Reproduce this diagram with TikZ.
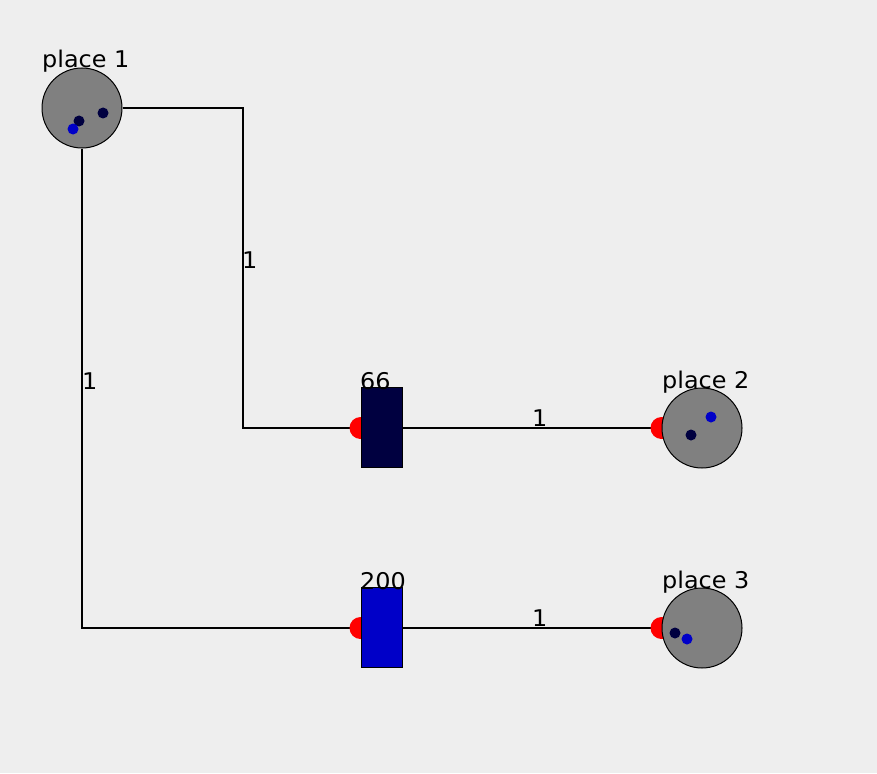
\documentclass[tikz,border=0pt]{standalone}
\usepackage{fontspec}
\newfontfamily\lblfont[FakeStretch=1.04]{DejaVu Sans}
\usetikzlibrary{backgrounds}
\definecolor{bgcol}{RGB}{238,238,238}
\definecolor{navytok}{RGB}{0,0,64}
\definecolor{bluetok}{RGB}{0,0,200}
\definecolor{placegray}{RGB}{128,128,128}
\definecolor{arcred}{RGB}{255,0,0}
\begin{document}
\begin{tikzpicture}[x=1pt,y=-1pt,
  place/.style={circle,draw=black,line width=1pt,fill=placegray,minimum size=80pt,inner sep=0pt},
  trans/.style={rectangle,draw=black,line width=1pt,minimum width=41pt,minimum height=80pt,inner sep=0pt},
  lbl/.style={anchor=base west,inner sep=0pt,font=\lblfont\fontsize{23}{23}\selectfont},
  arc/.style={draw=black,line width=2pt},
  token/.style={circle,inner sep=0pt,minimum size=11pt},
  inhib/.style={fill=arcred}]
\useasboundingbox (0,0) rectangle (877,773);
% places
\node[place] (p1) at (82,108) {};
\node[place] (p2) at (702,428) {};
\node[place] (p3) at (702,628) {};
% transitions
\node[trans,fill=navytok] (t1) at (381.5,427) {};
\node[trans,fill=bluetok] (t2) at (381.5,627) {};
% tokens
\node[token,fill=navytok] (k1) at (79,121) {};
\node[token,fill=navytok] (k2) at (103,113) {};
\node[token,fill=bluetok] (k3) at (73,129) {};
\node[token,fill=bluetok] (k4) at (711,417) {};
\node[token,fill=navytok] (k5) at (691,435) {};
\node[token,fill=navytok] (k6) at (675,633) {};
\node[token,fill=bluetok] (k7) at (687,639) {};
% labels
\node[lbl] (lp1) at (42,68) {place 1};
\node[lbl] (lp2) at (662,388) {place 2};
\node[lbl] (lp3) at (662,588) {place 3};
\node[lbl] (lt1) at (360,389) {66};
\node[lbl] (lt2) at (360,589) {200};
\node[lbl] (le1) at (242,268) {1};
\node[lbl] (le2) at (82,389) {1};
\node[lbl] (le3) at (532,426) {1};
\node[lbl] (le4) at (532,626) {1};
\begin{pgfonlayer}{background}
  \fill[bgcol] (0,0) rectangle (877,773);
  \draw[arc] (p1.east) -- ++(120,0) |- (t1.west |- p2.west);
  \draw[arc] (p1.south) |- (t2.west |- p3.west);
  \draw[arc] (t1.east |- p2.west) -- (p2.west);
  \draw[arc] (t2.east |- p3.west) -- (p3.west);
  \fill[inhib] (t1.west |- p2.west) circle (11pt);
  \fill[inhib] (t2.west |- p3.west) circle (11pt);
  \fill[inhib] (p2.west) circle (11pt);
  \fill[inhib] (p3.west) circle (11pt);
\end{pgfonlayer}
\end{tikzpicture}
\end{document}
